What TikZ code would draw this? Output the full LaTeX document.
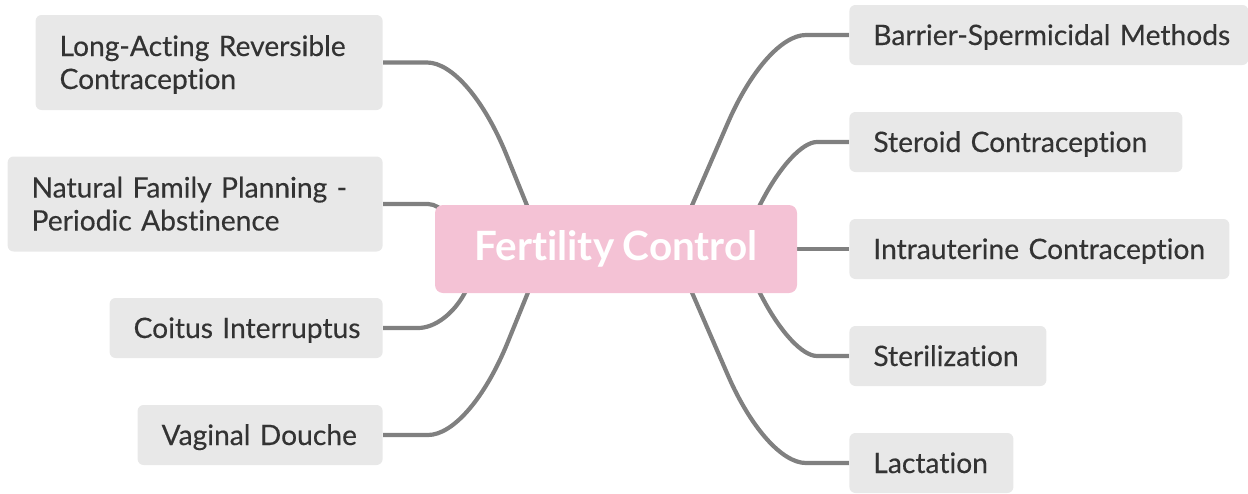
\documentclass[tikz,border=0pt]{standalone}
\usepackage{fontspec}
\setmainfont{Lato}[Ligatures=NoCommon,WordSpace=0.85]
\newfontfamily\topicfont{Lato}[Ligatures=NoCommon,FakeBold=0.3,WordSpace=0.8]
\usetikzlibrary{calc}
\definecolor{boxgray}{HTML}{E8E8E8}
\definecolor{linegray}{HTML}{808080}
\definecolor{textgray}{HTML}{333333}
\definecolor{pinkc}{HTML}{F4C2D5}
\pgfdeclarelayer{background}
\pgfsetlayers{background,main}
\tikzset{
  topic/.style={fill=boxgray, rounded corners=3pt, text=textgray,
    font=\topicfont\fontsize{14.1}{16.5}\selectfont, inner xsep=12pt, inner ysep=0pt, align=left},
  oneline/.style={minimum height=30pt, text height=13pt, text depth=3pt},
  twoline/.style={minimum height=47.5pt, text height=13pt, text depth=19.5pt},
  conn/.style={draw=linegray, line width=2.1pt},
  central/.style={fill=pinkc, rounded corners=4pt, text=white,
    font=\fontsize{20.2}{24}\selectfont\bfseries, minimum width=181pt,
    minimum height=44pt, inner sep=0pt},
}
% bend from start #1 through corner #2 to end #3, leaving #4 on the first leg and #5 on the second
\newcommand{\bendconn}[5]{%
  \draw[conn] (#1) -- ($(#2)!#4!(#1)$)
    .. controls ($($(#2)!#4!(#1)$)!0.6!(#2)$) and ($($(#2)!#5!(#3)$)!0.6!(#2)$) ..
    ($(#2)!#5!(#3)$) -- (#3);}
\begin{document}
\begin{tikzpicture}[x=0.5pt,y=-0.5pt]
\useasboundingbox (0,0) rectangle (1248,493);
\node[central] (c) at (616,249) {Fertility Control};
% right
\node[topic,oneline,anchor=west,text width=175.5pt] (b1) at (849,35) {\mbox{Barrier-Spermicidal Methods}};
\node[topic,oneline,anchor=west,text width=142.5pt] (b2) at (849,142) {\mbox{Steroid Contraception}};
\node[topic,oneline,anchor=west,text width=166pt] (b3) at (849,249) {\mbox{Intrauterine Contraception}};
\node[topic,oneline,anchor=west,text width=74.5pt] (b4) at (849,356) {\mbox{Sterilization}};
\node[topic,oneline,anchor=west,text width=58pt] (b5) at (849,463) {\mbox{Lactation}};
% left
\node[topic,twoline,anchor=east,text width=149.5pt] (a1) at (383,62.5) {\mbox{Long-Acting Reversible}\\\mbox{Contraception}};
\node[topic,twoline,anchor=east,text width=163.5pt] (a2) at (383,204) {\mbox{Natural Family Planning -}\\\mbox{Periodic Abstinence}};
\node[topic,oneline,anchor=east,text width=112.5pt] (a3) at (383,328) {\mbox{Coitus Interruptus}};
\node[topic,oneline,anchor=east,text width=98.5pt] (a4) at (383,435) {\mbox{Vaginal Douche}};
% connector start points (inside the central topic) and bend points
\coordinate (s1) at ($(c.center)+(61,-9)$);    \coordinate (k1) at (766,35);
\coordinate (s2) at ($(c.center)+(125.5,-9)$); \coordinate (k2) at (793,142);
\coordinate (s4) at ($(c.center)+(125.5,9)$);  \coordinate (k4) at (793,356);
\coordinate (s5) at ($(c.center)+(61,9)$);     \coordinate (k5) at (766,463);
\coordinate (t1) at ($(c.center)+(-75,-9)$);   \coordinate (j1) at (469,62.5);
\coordinate (t2) at ($(c.center)+(-161,-14)$); \coordinate (j2) at (440,204);
\coordinate (t3) at ($(c.center)+(-132.5,9)$); \coordinate (j3) at (446,328);
\coordinate (t4) at ($(c.center)+(-74,9)$);    \coordinate (j4) at (470,435);
\begin{pgfonlayer}{background}
\bendconn{s1}{k1}{b1.west}{48pt}{20pt}
\bendconn{s2}{k2}{b2.west}{33pt}{12pt}
\draw[conn] (c.east) -- (b3.west);
\bendconn{s4}{k4}{b4.west}{33pt}{12pt}
\bendconn{s5}{k5}{b5.west}{48pt}{20pt}
\bendconn{t1}{j1}{a1.east}{50pt}{21pt}
\draw[conn, rounded corners=6pt] (t2) -- (j2) -- (a2.east);
\bendconn{t3}{j3}{a3.east}{20pt}{14pt}
\bendconn{t4}{j4}{a4.east}{50pt}{21pt}
\end{pgfonlayer}
\end{tikzpicture}
\end{document}
